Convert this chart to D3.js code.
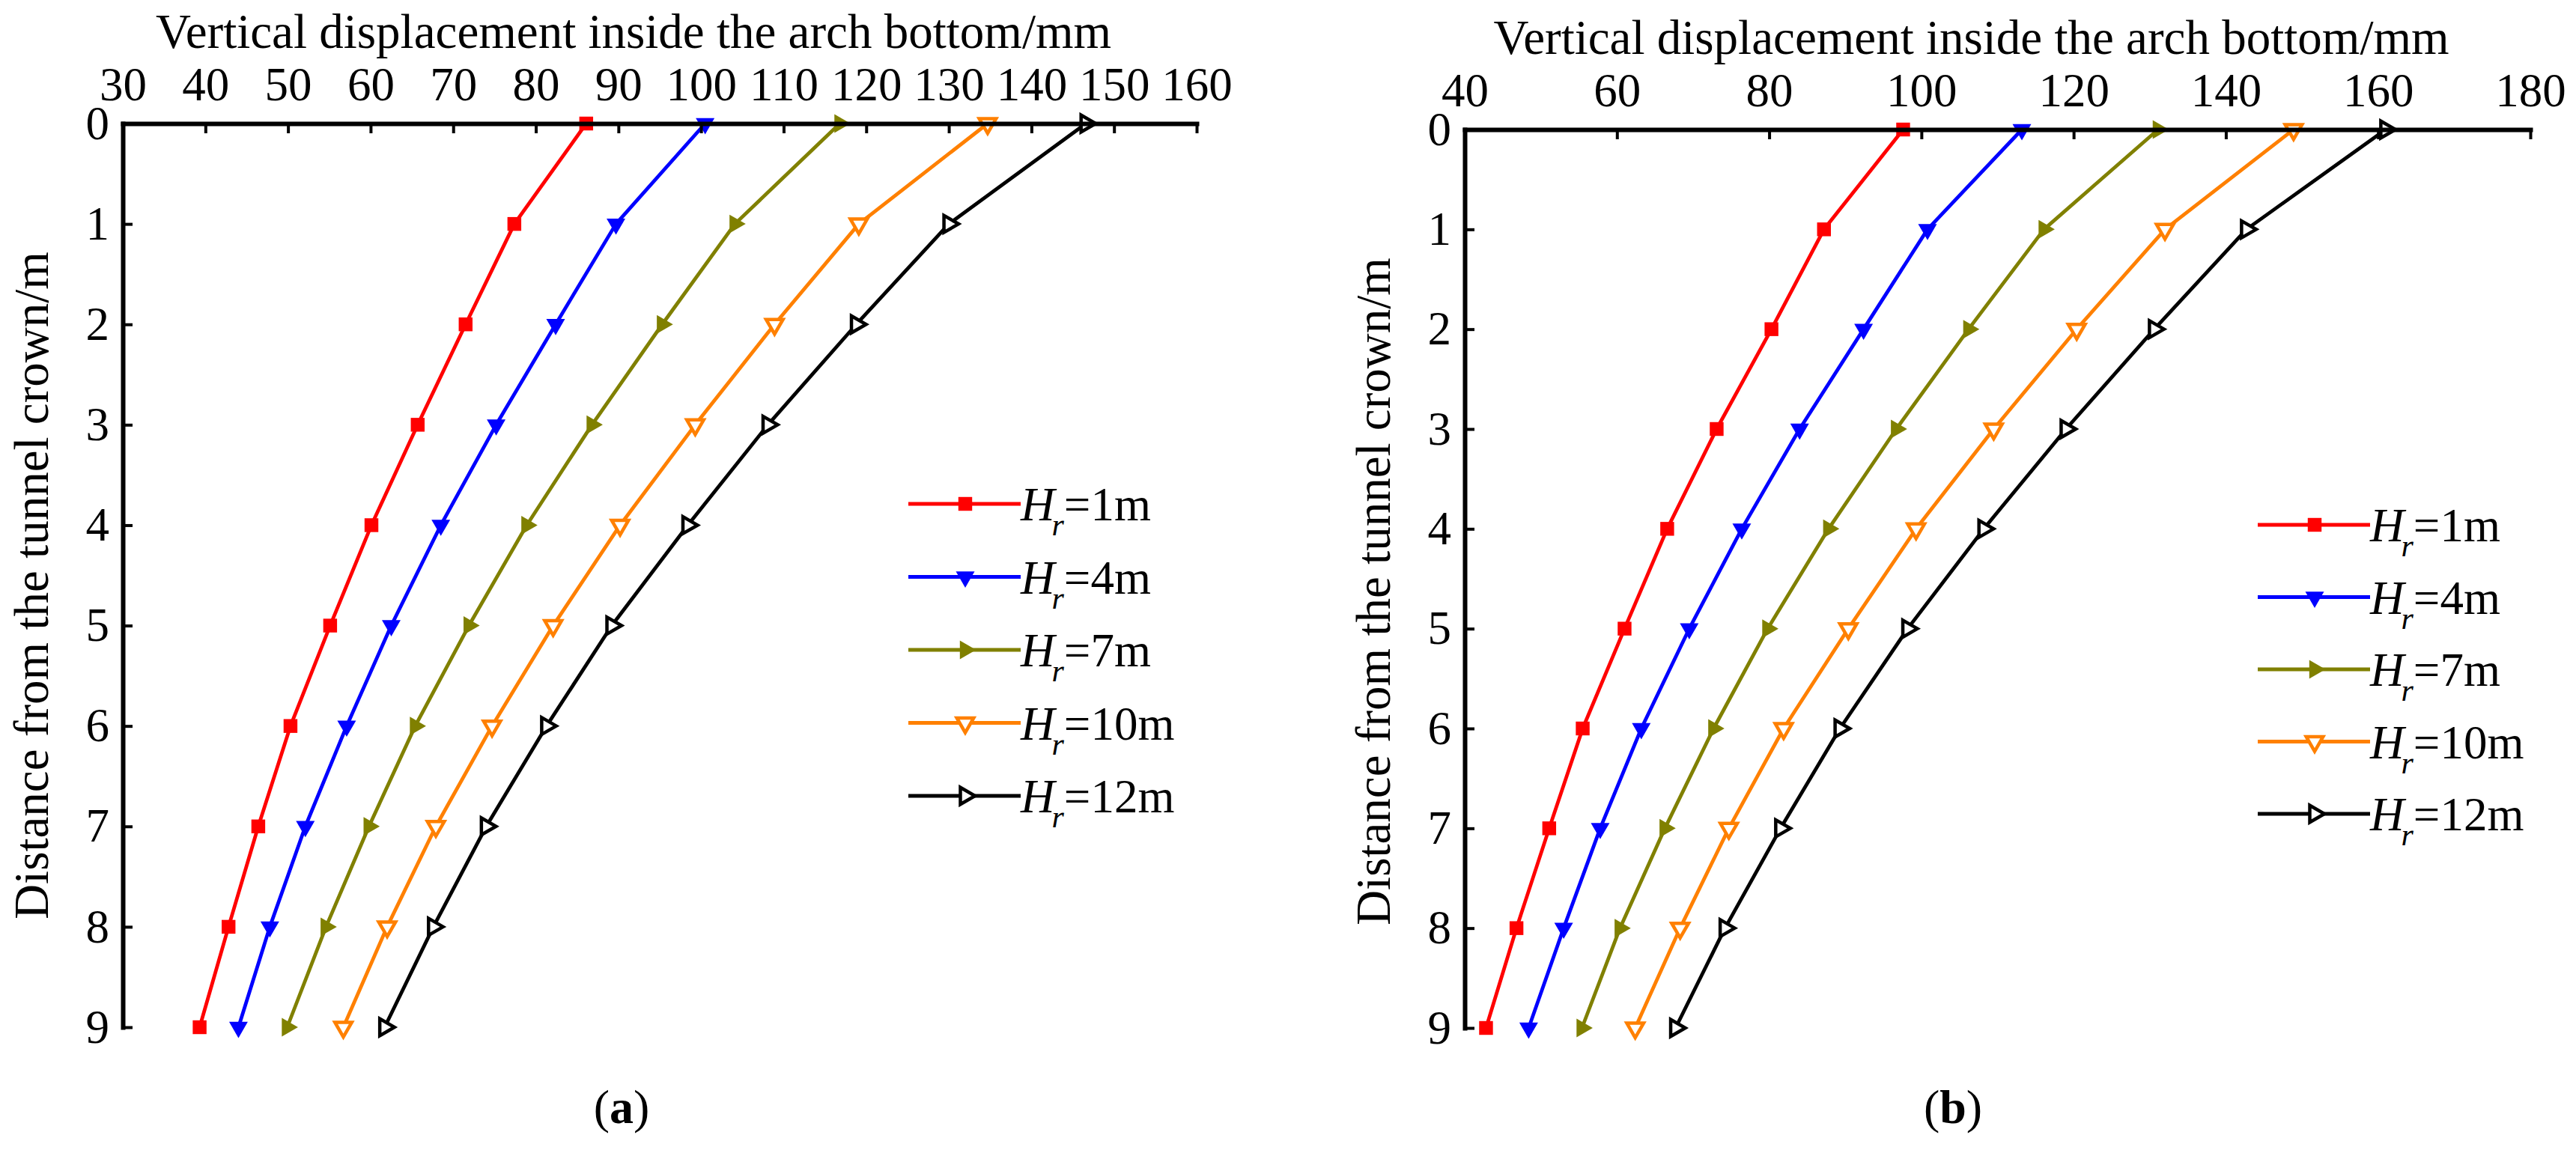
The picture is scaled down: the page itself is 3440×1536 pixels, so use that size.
<!DOCTYPE html>
<html>
<head>
<meta charset="utf-8">
<script src="https://cdn.jsdelivr.net/npm/d3@7"></script>
<style>
  html, body { margin: 0; padding: 0; background: #fff; }
  svg { display: block; }
  text { font-family: "Liberation Serif", "Times New Roman", "DejaVu Serif", serif; fill: #000; }
</style>
</head>
<body>
<div id="chart"></div>
<script>
// distance below the tunnel crown (m), shared by both panels
const depths = [0, 1, 2, 3, 4, 5, 6, 7, 8, 9];

// series names (H_r values)
const seriesNames = ['1m', '4m', '7m', '10m', '12m'];

// panel (a) vertical displacement, mm
const aHr1 = [86.1, 77.4, 71.5, 65.7, 60.1, 55.1, 50.3, 46.4, 42.8, 39.3];
const aHr4 = [100.5, 89.7, 82.4, 75.2, 68.5, 62.5, 57.1, 52.1, 47.8, 44.0];
const aHr7 = [116.8, 104.1, 95.3, 86.8, 78.9, 71.9, 65.4, 59.8, 54.6, 49.9];
const aHr10 = [134.7, 119.1, 108.9, 99.3, 90.2, 82.1, 74.7, 67.9, 62.0, 56.7];
const aHr12 = [146.6, 130.0, 118.8, 108.1, 98.4, 89.2, 81.3, 74.0, 67.6, 61.7];

// panel (b) vertical displacement, mm
const bHr1 = [97.6, 87.2, 80.3, 73.1, 66.6, 61.0, 55.5, 51.1, 46.8, 42.8];
const bHr4 = [113.2, 100.8, 92.4, 84.0, 76.4, 69.5, 63.2, 57.8, 53.0, 48.4];
const bHr7 = [131.1, 116.1, 106.2, 96.7, 87.8, 79.8, 72.7, 66.3, 60.4, 55.4];
const bHr10 = [148.9, 132.0, 120.4, 109.5, 99.3, 90.4, 81.9, 74.7, 68.3, 62.4];
const bHr12 = [161.0, 142.7, 130.6, 119.0, 108.2, 98.2, 89.3, 81.5, 74.2, 67.7];

// tick labels
const aXTicks = [30, 40, 50, 60, 70, 80, 90, 100, 110, 120, 130, 140, 150, 160];
const bXTicks = [40, 60, 80, 100, 120, 140, 160, 180];
const yTicks = [0, 1, 2, 3, 4, 5, 6, 7, 8, 9];

const xTitle = 'Vertical displacement inside the arch bottom/mm';
const yTitle = 'Distance from the tunnel crown/m';

/**
 * One panel of the figure: a top x axis, a left y axis, five marked lines and a legend.
 * Options hold the box of the plot area and where the legend sits.
 */
class DisplacementPanel {
  constructor(opts) {
    this.svg = opts.svg;
    this.box = opts.box;
    this.xDomain = opts.xDomain;
    this.xTicks = opts.xTicks;
    this.series = opts.series;
    this.legend = opts.legend;
    this.tag = opts.tag;
    this.styles = [
      { colour: '#ff0000', shape: 'square' },
      { colour: '#0000ff', shape: 'down' },
      { colour: '#808000', shape: 'right' },
      { colour: '#ff8000', shape: 'downOpen' },
      { colour: '#000000', shape: 'rightOpen' },
    ];
  }

  draw() {
    this.g = this.svg.append('g');
    this.x = d3.scaleLinear().domain(this.xDomain).range([this.box.left, this.box.right]);
    this.y = d3.scaleLinear().domain([0, 9]).range([this.box.top, this.box.bottom]);

    this.addLines();
    this.addAxes();
    this.addLegend();
    this.addTag();
  }

  /**
   * Axis on top and on the left, ticks pointing into the plot (like the source figure)
   */
  addAxes() {
    const top = this.g.append('g')
      .attr('transform', `translate(0,${this.box.top})`)
      .call(d3.axisTop(this.x).tickValues(this.xTicks).tickFormat(d3.format('d'))
        .tickSizeInner(-13).tickSizeOuter(0).tickPadding(31));

    const left = this.g.append('g')
      .attr('transform', `translate(${this.box.left},0)`)
      .call(d3.axisLeft(this.y).tickValues(yTicks).tickFormat(d3.format('d'))
        .tickSizeInner(-13).tickSizeOuter(0).tickPadding(18));

    [top, left].forEach((ax) => {
      ax.select('.domain').attr('stroke', '#000').attr('stroke-width', 6)
        .attr('stroke-linecap', 'square');
      ax.selectAll('.tick line').attr('stroke', '#000').attr('stroke-width', 4);
      ax.selectAll('.tick text')
        .attr('font-size', 63)
        .attr('fill', '#000');
    });

    // axis titles
    this.g.append('text')
      .attr('x', (this.box.left + this.box.right) / 2 - 35)
      .attr('y', this.box.top - 101)
      .attr('text-anchor', 'middle')
      .attr('font-size', 65)
      .text(xTitle);

    this.g.append('text')
      .attr('transform', `translate(${this.box.left - 100},${this.box.top + 617}) rotate(-90)`)
      .attr('text-anchor', 'middle')
      .attr('font-size', 65)
      .text(yTitle);
  }

  /**
   * Builds a path for a marker shape; d3 triangles point up, so rotate them
   */
  markerPath(shape) {
    if (shape === 'square') return d3.symbol(d3.symbolSquare, 340)();
    return d3.symbol(d3.symbolTriangle, shape.includes('Open') ? 220 : 270)();
  }

  markerRotation(shape) {
    if (shape.startsWith('down')) return 180;
    if (shape.startsWith('right')) return 90;
    return 0;
  }

  drawMarker(sel, style, px, py) {
    const open = style.shape.includes('Open');
    sel.append('path')
      .attr('d', this.markerPath(style.shape))
      .attr('transform', `translate(${px},${py}) rotate(${this.markerRotation(style.shape)})`)
      .attr('fill', open ? '#fff' : style.colour)
      .attr('stroke', style.colour)
      .attr('stroke-width', open ? 4.5 : 0);
  }

  addLines() {
    const line = d3.line()
      .x((d) => this.x(d.v))
      .y((d) => this.y(d.depth));

    this.series.forEach((vals, i) => {
      const style = this.styles[i];
      const pts = vals.map((v, j) => ({ v, depth: depths[j] }));
      const s = this.g.append('g');
      s.append('path')
        .datum(pts)
        .attr('d', line)
        .attr('fill', 'none')
        .attr('stroke', style.colour)
        .attr('stroke-width', 4.8)
        .attr('stroke-linejoin', 'round');
      pts.forEach((p) => this.drawMarker(s, style, this.x(p.v), this.y(p.depth)));
    });
  }

  addLegend() {
    const lg = this.legend;
    seriesNames.forEach((name, i) => {
      const style = this.styles[i];
      const yy = lg.y + i * lg.step;
      const row = this.g.append('g');
      row.append('line')
        .attr('x1', lg.x).attr('x2', lg.x + 150)
        .attr('y1', yy).attr('y2', yy)
        .attr('stroke', style.colour)
        .attr('stroke-width', 5);
      this.drawMarker(row, style, lg.x + 76, yy);

      const t = row.append('text')
        .attr('x', lg.x + 150)
        .attr('y', yy + 22)
        .attr('font-size', 63);
      t.append('tspan').attr('font-style', 'italic').text('H');
      t.append('tspan').attr('font-style', 'italic').attr('font-size', 42)
        .attr('dy', 20).attr('dx', -4).text('r');
      t.append('tspan').attr('dy', -20).text(`=${name}`);
    });
  }

  addTag() {
    const t = this.g.append('text')
      .attr('x', this.tag.x)
      .attr('y', 1500)
      .attr('text-anchor', 'middle')
      .attr('font-size', 64);
    t.append('tspan').text('(');
    t.append('tspan').attr('font-weight', 'bold').text(this.tag.label);
    t.append('tspan').text(')');
  }
}

const svg = d3.select('#chart').append('svg')
  .attr('width', 3440)
  .attr('height', 1536);

svg.append('rect').attr('width', 3440).attr('height', 1536).attr('fill', '#fff');

new DisplacementPanel({
  svg,
  box: { left: 164, right: 1598, top: 165, bottom: 1372 },
  xDomain: [30, 160],
  xTicks: aXTicks,
  series: [aHr1, aHr4, aHr7, aHr10, aHr12],
  legend: { x: 1213, y: 673, step: 97.5 },
  tag: { x: 830, label: 'a' },
}).draw();

new DisplacementPanel({
  svg,
  box: { left: 1956, right: 3379, top: 173, bottom: 1373 },
  xDomain: [40, 180],
  xTicks: bXTicks,
  series: [bHr1, bHr4, bHr7, bHr10, bHr12],
  legend: { x: 3015, y: 701, step: 96.5 },
  tag: { x: 2608, label: 'b' },
}).draw();
</script>
</body>
</html>
